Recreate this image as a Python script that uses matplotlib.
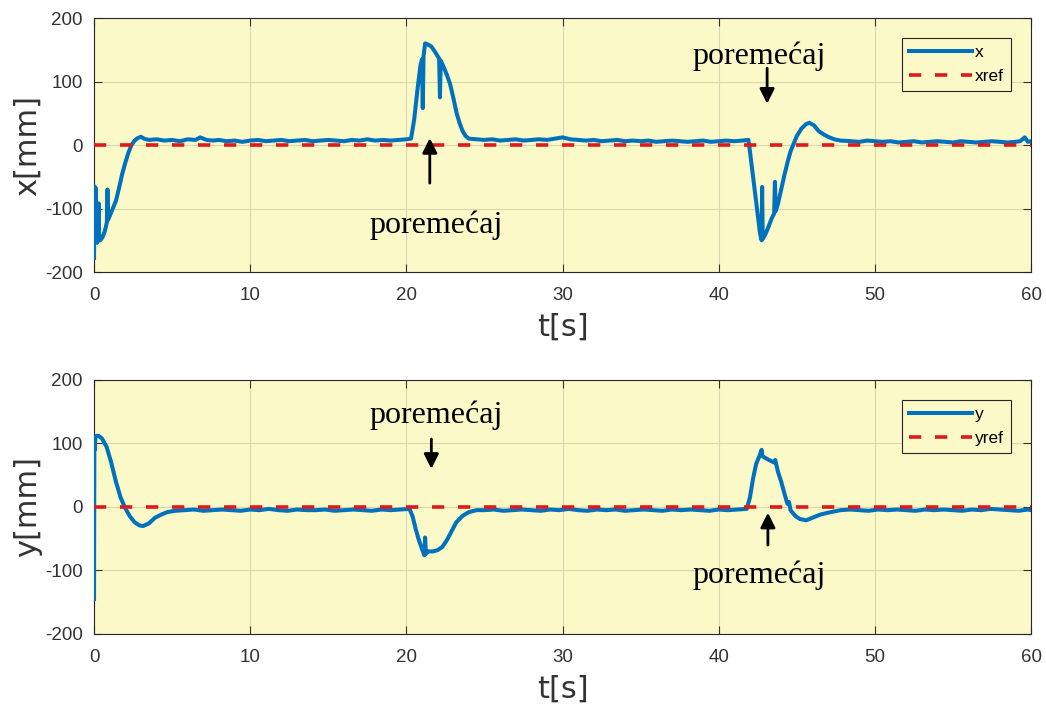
import matplotlib
matplotlib.use("Agg")
import matplotlib.pyplot as plt

# ---------------- data ----------------
t_x = [0.00, 0.03, 0.06, 0.09, 0.12, 0.15, 0.20, 0.25, 0.30, 0.33, 0.40, 0.55, 0.70, 0.82, 0.86, 0.90,
       1.00, 1.20, 1.40, 1.60, 1.80, 2.00, 2.20, 2.40, 2.60, 2.80, 3.00, 3.20, 3.50, 4.00, 4.50, 5.00,
       5.50, 6.00, 6.50, 6.80, 7.20, 7.60, 8.00, 8.50, 9.00, 9.50, 10.0, 10.5, 11.0, 11.5, 12.0, 12.5,
       13.0, 13.5, 14.0, 14.5, 15.0, 15.5, 16.0, 16.5, 17.0, 17.5, 18.0, 18.5, 19.0, 19.5, 20.0, 20.3,
       20.5, 20.7, 20.9, 21.0, 21.05, 21.1, 21.2, 21.4, 21.6, 21.8, 22.0, 22.1, 22.15, 22.2, 22.4, 22.6,
       22.8, 23.0, 23.2, 23.4, 23.6, 23.8, 24.0, 24.5, 25.0, 25.5, 26.0, 26.5, 27.0, 27.5, 28.0, 28.5,
       29.0, 29.5, 30.0, 30.5, 31.0, 31.5, 32.0, 32.5, 33.0, 33.5, 34.0, 34.5, 35.0, 35.5, 36.0, 36.5,
       37.0, 37.5, 38.0, 38.5, 39.0, 39.5, 40.0, 40.5, 41.0, 41.5, 41.9, 42.0, 42.1, 42.3, 42.5, 42.65,
       42.75, 42.78, 42.82, 43.0, 43.2, 43.4, 43.55, 43.6, 43.65, 43.8, 44.0, 44.2, 44.4, 44.6, 44.8, 45.0,
       45.3, 45.6, 45.8, 46.1, 46.4, 46.7, 47.0, 47.4, 47.8, 48.5, 49.0, 49.5, 50.0, 50.5, 51.0, 51.5,
       52.0, 52.5, 53.0, 53.5, 54.0, 54.5, 55.0, 55.5, 56.0, 56.5, 57.0, 57.5, 58.0, 58.5, 59.0, 59.3,
       59.6, 59.8, 60.0]
x_mm = [-178, -65, -140, -150, -68, -145, -154, -150, -92, -148, -150, -145, -135, -122, -70, -118,
        -112, -100, -88, -68, -46, -28, -12, 0, 7, 11, 13, 10, 8, 9, 7, 8,
        6, 9, 8, 12, 8, 7, 8, 6, 7, 5, 7, 8, 6, 7, 8, 6,
        7, 8, 6, 7, 8, 7, 6, 8, 7, 9, 7, 8, 7, 8, 9, 10,
        40, 85, 125, 135, 58, 140, 160, 158, 155, 148, 140, 136, 75, 133, 122, 110,
        96, 75, 52, 35, 22, 14, 10, 9, 8, 9, 7, 8, 9, 7, 8, 9,
        8, 10, 12, 9, 8, 7, 8, 6, 7, 8, 6, 7, 6, 7, 5, 6,
        7, 6, 5, 6, 7, 5, 6, 7, 6, 7, 8, -10, -30, -70, -110, -140,
        -150, -66, -148, -140, -128, -115, -108, -58, -104, -92, -70, -48, -28, -10, 2, 14,
        26, 33, 35, 31, 22, 17, 13, 9, 7, 6, 5, 7, 6, 5, 6, 4,
        5, 6, 4, 5, 6, 5, 4, 6, 5, 4, 5, 6, 5, 4, 5, 6,
        12, 5, 6]

t_y = [0.00, 0.02, 0.05, 0.08, 0.15, 0.30, 0.50, 0.80, 1.10, 1.40, 1.70, 2.00, 2.30, 2.60, 2.90, 3.15,
       3.50, 3.90, 4.30, 4.70, 5.20, 5.80, 6.40, 7.00, 7.60, 8.20, 8.80, 9.40, 10.0, 10.6, 11.2, 11.8,
       12.4, 13.0, 13.6, 14.2, 14.8, 15.4, 16.0, 16.6, 17.2, 17.8, 18.4, 19.0, 19.6, 20.2, 20.4, 20.6,
       20.8, 21.0, 21.15, 21.2, 21.25, 21.4, 21.7, 22.0, 22.3, 22.6, 22.9, 23.2, 23.6, 24.0, 24.5, 25.0,
       25.6, 26.2, 26.8, 27.4, 28.0, 28.6, 29.2, 29.8, 30.4, 31.0, 31.6, 32.2, 32.8, 33.4, 34.0, 34.6,
       35.2, 35.8, 36.4, 37.0, 37.6, 38.2, 38.8, 39.4, 40.0, 40.6, 41.2, 41.8, 42.0, 42.2, 42.4, 42.6,
       42.75, 42.8, 43.0, 43.3, 43.55, 43.62, 43.8, 44.0, 44.2, 44.4, 44.5, 44.6, 44.9, 45.2, 45.6, 46.0,
       46.5, 47.0, 47.8, 48.4, 49.0, 49.6, 50.2, 50.8, 51.4, 52.0, 52.6, 53.2, 53.8, 54.4, 55.0, 55.6,
       56.2, 56.8, 57.4, 58.0, 58.6, 59.2, 59.8, 60.0]
y_mm = [-145, 100, 90, 108, 112, 112, 108, 95, 70, 40, 15, -2, -15, -24, -29, -30,
        -26, -17, -12, -8, -6, -5, -4, -6, -5, -4, -5, -6, -4, -5, -3, -5,
        -6, -4, -5, -5, -4, -6, -5, -4, -5, -6, -4, -5, -4, -3, -15, -35,
        -52, -66, -76, -48, -74, -70, -70, -68, -63, -52, -38, -24, -14, -8, -5, -5,
        -4, -6, -5, -4, -5, -6, -4, -5, -3, -5, -6, -4, -5, -4, -6, -5,
        -4, -5, -6, -4, -5, -4, -5, -6, -4, -5, -4, -3, 15, 45, 68, 80,
        90, 80, 77, 73, 70, 74, 55, 40, 22, 5, 8, -5, -14, -19, -21, -17,
        -12, -9, -5, -4, -5, -6, -4, -5, -4, -5, -6, -4, -5, -4, -5, -6,
        -4, -5, -3, -4, -5, -6, -4, -5]

t_ref = [0, 60]
x_ref = [0, 0]
y_ref = [0, 0]

x_ticks = [0, 10, 20, 30, 40, 50, 60]
y_ticks = [-200, -100, 0, 100, 200]

annot_text = "poremećaj"
# (arrow x, tail y, tip y, text x, text y) per panel
annots_x = [(21.5, -60, 11, 21.9, -126), (43.1, 121, 65, 42.6, 139)]
annots_y = [(21.6, 107, 60, 21.9, 145), (43.15, -60, -9, 42.6, -107)]

# ---------------- style ----------------
plt.rcParams['font.family'] = ['Liberation Sans', 'DejaVu Sans']
plt.rcParams['axes.unicode_minus'] = False
BLUE = '#0072BD'
RED = '#E0191B'
BG = '#FBF9C8'
DARK = '#333333'

fig = plt.figure(figsize=(10.46, 7.06), dpi=100)
ax1 = fig.add_axes([0.0899, 0.6147, 0.8958, 0.3598])
ax2 = fig.add_axes([0.0899, 0.1020, 0.8958, 0.3598])


def style(ax, t, v, ref, lab, reflab, ylabel, annots):
    ax.set_facecolor(BG)
    ax.plot(t, v, color=BLUE, lw=2.9, label=lab, zorder=3)
    ax.plot(t_ref, ref, color=RED, lw=2.6,
            ls=(0, (3.4, 3.8)), label=reflab, zorder=4)
    ax.set_xlim(0, 60)
    ax.set_ylim(-200, 200)
    ax.set_xticks(x_ticks)
    ax.set_yticks(y_ticks)
    ax.grid(True, color='#d9d6b0', lw=0.8)
    ax.tick_params(direction='in', top=True, right=True, labelsize=13.5,
                   colors=DARK, length=6, width=0.8)
    ax.tick_params(axis='x', pad=11)
    ax.tick_params(axis='y', pad=8)
    for sp in ax.spines.values():
        sp.set_color('#262626')
        sp.set_linewidth(0.8)
    ax.set_xlabel('t[s]', fontsize=22, color=DARK, labelpad=6,
                  family=['DejaVu Sans'])
    ax.set_ylabel(ylabel, fontsize=22, color=DARK, labelpad=2,
                  family=['DejaVu Sans'])
    leg = ax.legend(loc='upper right', bbox_to_anchor=(0.9787, 0.921), fontsize=12.5,
                    handlelength=3.6, handletextpad=0.2, frameon=True, fancybox=False,
                    borderpad=0.4, labelspacing=0.5, borderaxespad=0)
    leg.get_frame().set_edgecolor('#262626')
    leg.get_frame().set_facecolor(BG)
    leg.get_frame().set_linewidth(0.8)
    leg.get_frame().set_alpha(1)
    for ax_x, tail, tip, tx, ty in annots:
        ax.annotate('', xy=(ax_x, tip), xytext=(ax_x, tail),
                    arrowprops=dict(arrowstyle='-|>', color='k', lw=2,
                                    mutation_scale=22, shrinkA=0, shrinkB=0), zorder=6)
        ax.text(tx, ty, annot_text, family=['Liberation Serif', 'DejaVu Serif'],
                fontsize=23, ha='center', va='center', color='k', zorder=6)


style(ax1, t_x, x_mm, x_ref, 'x', 'xref', 'x[mm]', annots_x)
style(ax2, t_y, y_mm, y_ref, 'y', 'yref', 'y[mm]', annots_y)

fig.savefig('out.png', dpi=100)
